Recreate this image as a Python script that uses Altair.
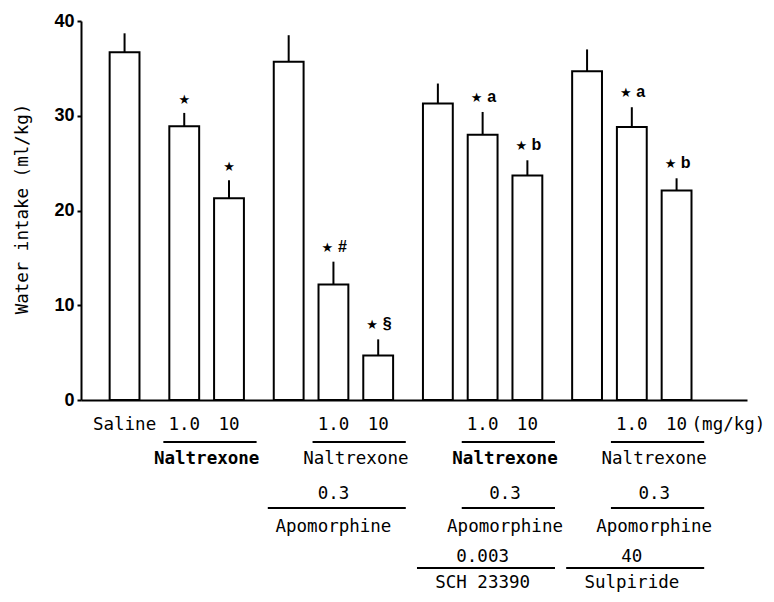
import altair as alt
import pandas as pd

# ---------------- data ----------------
dose_labels = ["Saline", "1.0", "10", "", "1.0", "10", "", "1.0", "10", "", "1.0", "10"]
group_ids = [0, 1, 1, 2, 2, 2, 3, 3, 3, 4, 4, 4]
water_intake = [36.7, 28.9, 21.3, 35.7, 12.2, 4.7, 31.3, 28.0, 23.7, 34.7, 28.8, 22.1]
sem = [2.0, 1.4, 1.9, 2.8, 2.4, 1.7, 2.1, 2.4, 1.6, 2.3, 2.1, 1.3]
star_flag = [False, True, True, False, True, True, False, True, True, False, True, True]
star_suffix = ["", "", "", "", "#", "§", "", "a", "b", "", "a", "b"]

# treatment captions under the axis: (text, first bar, last bar, row, bold)
captions = [
    ("Naltrexone", 1, 2, 2, True),
    ("Naltrexone", 4, 5, 2, False),
    ("Naltrexone", 7, 8, 2, True),
    ("Naltrexone", 10, 11, 2, False),
    ("0.3", 3, 5, 3, False),
    ("0.3", 7, 8, 3, False),
    ("0.3", 10, 11, 3, False),
    ("Apomorphine", 3, 5, 4, False),
    ("Apomorphine", 7, 8, 4, False),
    ("Apomorphine", 10, 11, 4, False),
    ("0.003", 6, 8, 5, False),
    ("40", 9, 11, 5, False),
    ("SCH 23390", 6, 8, 6, False),
    ("Sulpiride", 9, 11, 6, False),
]
# underlines: (first bar, last bar, row)
underlines = [(1, 2, 1), (4, 5, 1), (7, 8, 1), (10, 11, 1),
              (3, 5, 3), (7, 8, 3), (10, 11, 3),
              (6, 8, 5), (9, 11, 5)]
unit_label = "(mg/kg)"
y_title = "Water intake (ml/kg)"
y_ticks = [0, 10, 20, 30, 40]

# ---------------- layout ----------------
slot = []
for i, g in enumerate(group_ids):
    if i == 0:
        slot.append(0)
    elif g != group_ids[i - 1]:
        slot.append(slot[-1] + 4)
    else:
        slot.append(slot[-1] + 3)

text_row_y = {1: 404, 2: 438, 3: 473, 4: 506, 5: 536, 6: 562}
line_row_y = {1: 421, 3: 487, 5: 547}
MONO = "DejaVu Sans Mono"
MONO_SIZE = 17.5

bars = pd.DataFrame({
    "pos": slot,
    "left": [s - 1 for s in slot],
    "right": [s + 1 for s in slot],
    "value": water_intake,
    "upper": [v + e for v, e in zip(water_intake, sem)],
    "dose": dose_labels,
    "star": star_flag,
    "suffix": star_suffix,
})

xscale = alt.Scale(domain=[-2.92, 41.72], nice=False, zero=False)
yscale = alt.Scale(domain=[0, 40], nice=False)

xaxis = alt.Axis(labels=False, ticks=False, grid=False, title=None,
                 domainColor="black", domainWidth=2)
yaxis = alt.Axis(values=y_ticks, grid=False,
                 tickSize=4, tickWidth=2, tickColor="black",
                 domainColor="black", domainWidth=2,
                 labelFont="Liberation Sans", labelFontSize=18,
                 labelFontWeight="bold", labelColor="black", labelPadding=3,
                 title=y_title, titleFont=MONO,
                 titleFontSize=MONO_SIZE, titleFontWeight="normal",
                 titleColor="black", titleX=-59, titleY=187.5,
                 titleBaseline="middle", titleAlign="center")


def X(field):
    return alt.X(field, scale=xscale, axis=xaxis)


def Y(field):
    return alt.Y(field, scale=yscale, axis=yaxis)


bar_layer = alt.Chart(bars).mark_bar(
    fill="white", stroke="black", strokeWidth=2
).encode(
    x=X("left:Q"),
    x2="right:Q",
    y=Y("value:Q"),
    y2=alt.datum(0),
)

err_layer = alt.Chart(bars).mark_rule(color="black", strokeWidth=2).encode(
    x=X("pos:Q"),
    y=Y("value:Q"),
    y2="upper:Q",
)

star_plain = alt.Chart(bars).transform_filter(
    "datum.star && datum.suffix == ''"
).mark_text(text="★", font="DejaVu Sans", fontSize=13, color="black",
            baseline="middle", dy=-13).encode(
    x=X("pos:Q"),
    y=Y("upper:Q"),
)

star_pre = alt.Chart(bars).transform_filter(
    "datum.star && datum.suffix != ''"
).mark_text(text="★", font="DejaVu Sans", fontSize=13, color="black",
            baseline="middle", dx=-6, dy=-14).encode(
    x=X("pos:Q"),
    y=Y("upper:Q"),
)

suffix_layer = alt.Chart(bars).transform_filter(
    "datum.suffix != ''"
).mark_text(font="Liberation Sans", fontSize=16, fontWeight="bold",
            color="black", baseline="middle", dx=9, dy=-15).encode(
    x=X("pos:Q"),
    y=Y("upper:Q"),
    text="suffix:N",
)

dose_layer = alt.Chart(bars).transform_filter("datum.dose != ''").mark_text(
    font=MONO, fontSize=MONO_SIZE, color="black", baseline="middle"
).encode(
    x=X("pos:Q"),
    y=alt.value(text_row_y[1]),
    text="dose:N",
)

unit_layer = alt.Chart(pd.DataFrame({"pos": [slot[-1]], "t": [unit_label]})).mark_text(
    font=MONO, fontSize=MONO_SIZE, color="black", baseline="middle", align="left", dx=15
).encode(
    x=X("pos:Q"),
    y=alt.value(text_row_y[1]),
    text="t:N",
)

cap_df = pd.DataFrame({
    "text": [c[0] for c in captions],
    "xc": [(slot[c[1]] + slot[c[2]]) / 2 for c in captions],
    "row": [c[3] for c in captions],
    "bold": [c[4] for c in captions],
})

layers = [bar_layer, err_layer, star_plain, star_pre, suffix_layer, dose_layer, unit_layer]

for row in sorted(set(cap_df["row"])):
    for bold in (False, True):
        sub = cap_df[(cap_df["row"] == row) & (cap_df["bold"] == bold)]
        if len(sub) == 0:
            continue
        layers.append(
            alt.Chart(sub).mark_text(
                font=MONO, fontSize=MONO_SIZE, color="black", baseline="middle",
                fontWeight="bold" if bold else "normal"
            ).encode(
                x=X("xc:Q"),
                y=alt.value(text_row_y[row]),
                text="text:N",
            )
        )

line_df = pd.DataFrame({
    "x1": [slot[u[0]] - 1.4 for u in underlines],
    "x2": [slot[u[1]] + 1.85 for u in underlines],
    "row": [u[2] for u in underlines],
})
for row in sorted(set(line_df["row"])):
    sub = line_df[line_df["row"] == row]
    layers.append(
        alt.Chart(sub).mark_rule(color="black", strokeWidth=2).encode(
            x=X("x1:Q"),
            x2="x2:Q",
            y=alt.value(line_row_y[row]),
        )
    )

chart = alt.layer(*layers).properties(
    width=666,
    height=379,
    autosize=alt.AutoSizeParams(type="none"),
    padding={"left": 73, "top": 13, "right": 19, "bottom": 194},
    background="white",
).configure_view(stroke=None)

chart.save("out.html", embed_options={"renderer": "svg", "actions": False})
